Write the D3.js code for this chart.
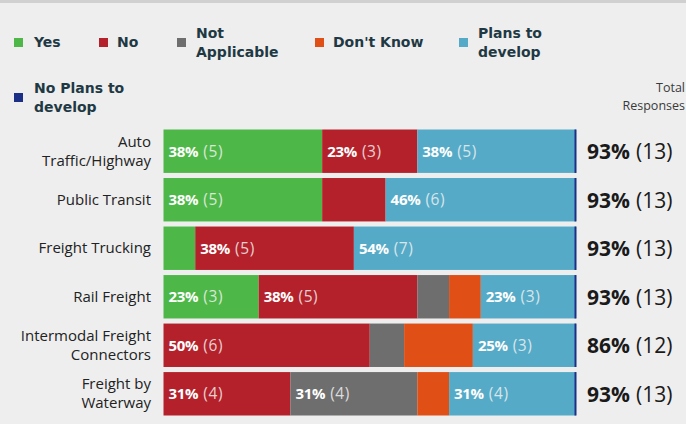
<!DOCTYPE html>
<html><head><meta charset="utf-8">
<script src="https://cdn.jsdelivr.net/npm/d3@7"></script>
<style>
html,body{margin:0;padding:0;background:#eeeeee;}
svg{display:block;}
</style></head>
<body>
<script>
const categories = [["Auto","Traffic/Highway"],["Public Transit"],["Freight Trucking"],["Rail Freight"],["Intermodal Freight","Connectors"],["Freight by","Waterway"]];
const seriesNames = ["Yes","No","Not Applicable","Don't Know","Plans to develop","No Plans to develop"];
const yesVals        = [5,5,1,3,0,0];
const noVals         = [3,2,5,5,6,4];
const naVals         = [0,0,0,1,1,4];
const dkVals         = [0,0,0,1,2,1];
const plansVals      = [5,6,7,3,3,4];
const noPlansVals    = [0,0,0,0,0,0];
const totalResponses = [13,13,13,13,12,13];
const totalRespondents = 14;
const colors = ["#4db848","#b5212b","#6e6e6e","#df4f16","#55abc7","#1b2f86"];

const W = 686, H = 424;
const svg = d3.select("body").append("svg").attr("width",W).attr("height",H);
svg.append("rect").attr("width",W).attr("height",H).attr("fill","#eeeeee");
svg.append("rect").attr("width",W).attr("height",3).attr("fill","#d0d0d0");

const seriesVals = [yesVals,noVals,naVals,dkVals,plansVals,noPlansVals];
const x = d3.scaleLinear().domain([0,1]).range([163.5,576]);
const y = d3.scaleBand().domain(d3.range(categories.length)).range([129.5,415.5]).paddingInner(0.105).paddingOuter(0.0);

// Legend
const legendItems = [
  {i:0, sx:14, sy:38, tx:34, lines:["Yes"], ly:[47]},
  {i:1, sx:99, sy:38, tx:117, lines:["No"], ly:[47]},
  {i:2, sx:177, sy:38, tx:196, lines:["Not","Applicable"], ly:[38,57]},
  {i:3, sx:315, sy:38, tx:333, lines:["Don't Know"], ly:[47]},
  {i:4, sx:459, sy:38, tx:478, lines:["Plans to","develop"], ly:[38,57]},
  {i:5, sx:14, sy:93, tx:34, lines:["No Plans to","develop"], ly:[93,112]}
];
const lg = svg.append("g");
legendItems.forEach(it=>{
  lg.append("rect").attr("x",it.sx).attr("y",it.sy).attr("width",9).attr("height",9).attr("fill",colors[it.i]);
  const t = lg.append("text").attr("font-family","DejaVu Sans, Verdana, sans-serif").attr("font-weight","bold").attr("font-size",14).attr("fill","#1f3944");
  it.lines.forEach((l,k)=>t.append("tspan").attr("x",it.tx).attr("y",it.ly[k]).text(l));
});
// Total Responses header
const th = svg.append("text").attr("text-anchor","end").attr("font-family","Open Sans, sans-serif").attr("font-size",12.5).attr("fill","#3a3a3a");
th.append("tspan").attr("x",685).attr("y",92).text("Total");
th.append("tspan").attr("x",685).attr("y",110).text("Responses");

// Bars
const rows = svg.append("g");
categories.forEach((cat,r)=>{
  const total = totalResponses[r];
  let cum = 0;
  const yy = y(r), bh = y.bandwidth();
  seriesVals.forEach((vals,s)=>{
    const v = vals[r];
    const x0 = x(cum/total), x1 = x((cum+v)/total);
    if (v>0){
      rows.append("rect").attr("x",x0).attr("y",yy).attr("width",x1-x0).attr("height",bh).attr("fill",colors[s]);
      if (v>=3){
        const t = rows.append("text").attr("x",x0+5).attr("y",yy+bh/2+5.5).attr("font-family","Open Sans, sans-serif").attr("font-size",15).attr("fill","#ffffff");
        t.append("tspan").attr("font-weight","bold").attr("letter-spacing","-0.3").text(Math.round(v/total*100)+"%");
        t.append("tspan").attr("dx",5).attr("font-size",15.5).attr("letter-spacing","0.6").attr("fill","#f1f1f1").attr("fill-opacity",0.85).text("("+v+")");
      }
    }
    cum += v;
  });
  // right edge navy line (No Plans to develop marker)
  rows.append("rect").attr("x",x(1)-1.5).attr("y",yy).attr("width",2).attr("height",bh).attr("fill",colors[5]);
  // category label
  const lt = rows.append("text").attr("text-anchor","end").attr("font-family","Open Sans, sans-serif").attr("font-size",15).attr("fill","#222");
  const n = cat.length;
  cat.forEach((l,k)=>lt.append("tspan").attr("x",151).attr("y",yy+bh/2+5+(k-(n-1)/2)*19).text(l));
  // total
  const tt = rows.append("text").attr("x",587).attr("y",yy+bh/2+8).attr("font-family","Open Sans, sans-serif").attr("font-size",21).attr("fill","#1a1a1a");
  tt.append("tspan").attr("font-weight","bold").text(Math.round(total/totalRespondents*100)+"%");
  tt.append("tspan").attr("dx",6).text("("+total+")");
});
</script>
</body></html>
